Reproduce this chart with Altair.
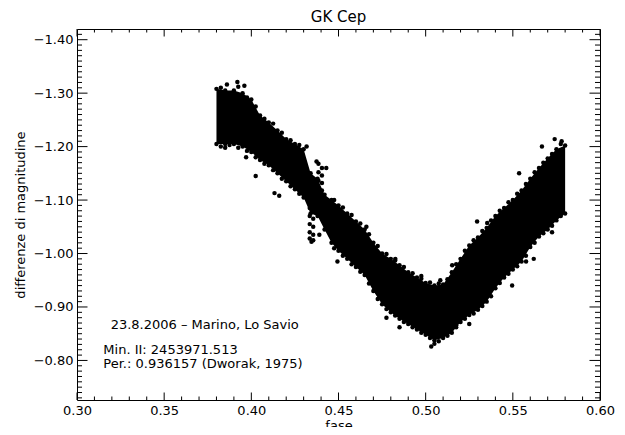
import altair as alt
import pandas as pd

# ---- light-curve envelope (phase, brightest / faintest edge) ----
phase = [0.380, 0.385, 0.390, 0.395, 0.400, 0.405, 0.410, 0.415, 0.420, 0.425,
         0.430, 0.434, 0.438, 0.442, 0.446, 0.450, 0.455, 0.460, 0.465, 0.470,
         0.475, 0.480, 0.485, 0.490, 0.495, 0.500, 0.505, 0.510, 0.515, 0.520,
         0.525, 0.530, 0.535, 0.540, 0.545, 0.550, 0.555, 0.560, 0.565, 0.570,
         0.575, 0.580]
mag_top = [-1.308, -1.305, -1.305, -1.300, -1.288, -1.258, -1.245, -1.230, -1.214, -1.205,
           -1.195, -1.150, -1.140, -1.110, -1.100, -1.090, -1.075, -1.060, -1.045, -1.020,
           -1.000, -0.990, -0.978, -0.965, -0.955, -0.945, -0.940, -0.942, -0.965, -0.990,
           -1.015, -1.030, -1.048, -1.070, -1.085, -1.100, -1.118, -1.140, -1.160, -1.178,
           -1.195, -1.202]
mag_bottom = [-1.205, -1.205, -1.205, -1.200, -1.190, -1.175, -1.165, -1.150, -1.135, -1.120,
              -1.105, -1.075, -1.070, -1.045, -1.020, -1.005, -0.990, -0.975, -0.960, -0.930,
              -0.905, -0.890, -0.878, -0.868, -0.858, -0.848, -0.838, -0.842, -0.852, -0.872,
              -0.885, -0.895, -0.910, -0.935, -0.955, -0.970, -0.985, -1.012, -1.032, -1.045,
              -1.062, -1.075]

# ---- edge points between the envelope samples ----
mid_phase = [0.3825, 0.3875, 0.3925, 0.3975, 0.4025, 0.4075, 0.4125, 0.4175, 0.4225, 0.4275,
             0.4475, 0.4525, 0.4575, 0.4625, 0.4675, 0.4725, 0.4775, 0.4825, 0.4875, 0.4925,
             0.4975, 0.5025, 0.5075, 0.5125, 0.5175, 0.5225, 0.5275, 0.5325, 0.5375, 0.5425,
             0.5475, 0.5525, 0.5575, 0.5625, 0.5675, 0.5725, 0.5775]
mid_top = [-1.310, -1.298, -1.312, -1.292, -1.275, -1.252, -1.243, -1.226, -1.212, -1.203,
           -1.100, -1.086, -1.072, -1.056, -1.036, -1.014, -0.999, -0.987, -0.975, -0.963,
           -0.953, -0.946, -0.944, -0.952, -0.980, -1.005, -1.025, -1.042, -1.062, -1.080,
           -1.096, -1.112, -1.130, -1.152, -1.170, -1.186, -1.205]
mid_bottom = [-1.200, -1.203, -1.198, -1.192, -1.180, -1.168, -1.156, -1.140, -1.126, -1.112,
              -1.010, -0.996, -0.980, -0.966, -0.944, -0.915, -0.896, -0.884, -0.872, -0.862,
              -0.852, -0.842, -0.836, -0.846, -0.862, -0.878, -0.888, -0.902, -0.920, -0.945,
              -0.962, -0.976, -0.996, -1.020, -1.038, -1.052, -1.070]

# ---- the two short vertical excursions near phase 0.435-0.44 ----
col_phase = [0.4335, 0.4335, 0.4335, 0.4335, 0.4335, 0.4335,
             0.4355, 0.4355, 0.4355, 0.4355, 0.4355, 0.4355,
             0.4385, 0.4385, 0.4385, 0.4385, 0.4405, 0.4405, 0.4405, 0.4405]
col_mag = [-1.100, -1.085, -1.070, -1.055, -1.040, -1.028,
           -1.095, -1.080, -1.065, -1.050, -1.035, -1.025,
           -1.168, -1.152, -1.136, -1.120, -1.160, -1.146, -1.132, -1.118]

# ---- scattered single points outside the dense band ----
out_phase = [0.392, 0.386, 0.396, 0.385, 0.397, 0.4025, 0.4133, 0.416, 0.4317, 0.4374,
             0.443, 0.4345, 0.439, 0.4494, 0.466, 0.4694, 0.4826, 0.4975, 0.5084, 0.5032,
             0.505, 0.5152, 0.4775, 0.485, 0.5295, 0.5353, 0.525, 0.5175, 0.5496, 0.5576,
             0.562, 0.5536, 0.5725, 0.5667, 0.578, 0.574]
out_mag = [-1.321, -1.316, -1.314, -1.198, -1.180, -1.145, -1.113, -1.108, -1.200, -1.172,
           -1.160, -1.022, -1.035, -0.985, -1.050, -1.010, -0.990, -0.958, -0.950, -0.826,
           -0.831, -0.978, -0.880, -0.862, -1.060, -1.057, -0.868, -0.866, -0.940, -0.985,
           -0.990, -1.150, -1.040, -1.200, -1.210, -1.214]

# ---- axes ----
x_major = [0.30, 0.35, 0.40, 0.45, 0.50, 0.55, 0.60]
y_major = [-1.40, -1.30, -1.20, -1.10, -1.00, -0.90, -0.80]
x_minor = [round(0.30 + i * 0.01, 2) for i in range(31) if i % 5]
y_minor = [round(-1.41 + i * 0.01, 2) for i in range(69)
           if round(-1.41 + i * 0.01, 2) not in y_major]

title_text = ["GK Cep"]
ann_text = ["23.8.2006 \u2013 Marino, Lo Savio", "Min. II: 2453971.513",
            "Per.: 0.936157 (Dworak, 1975)"]
ann_phase = [0.3193, 0.3151, 0.3151]
ann_mag = [-0.8588, -0.8112, -0.7850]

W, H = 523, 371
FONT = "DejaVu Sans"

xs = alt.Scale(domain=[0.30, 0.60], nice=False, zero=False)
ys = alt.Scale(domain=[-1.42, -0.726], nice=False, zero=False, reverse=True)

xaxis = alt.Axis(values=x_major, format=".2f", ticks=False, tickSize=0, domain=False,
                 grid=False, labelFont=FONT, labelFontSize=13, labelColor="black",
                 labelPadding=4, labelFlush=False, labelOverlap=False,
                 title="fase", titleFont=FONT, titleFontSize=13, titleFontWeight="normal",
                 titleColor="black", titleX=W / 2, titleY=19, titleBaseline="top",
                 titleAlign="center")
yaxis = alt.Axis(values=y_major, format=".2f", ticks=False, tickSize=0, domain=False,
                 grid=False, labelFont=FONT, labelFontSize=13, labelColor="black",
                 labelPadding=4, labelFlush=False, labelOverlap=False,
                 title="differenze di magnitudine", titleFont=FONT, titleFontSize=13,
                 titleFontWeight="normal", titleColor="black", titleX=-57, titleY=H / 2,
                 titleAngle=270, titleBaseline="middle", titleAlign="center")


def X(field):
    return alt.X(field, scale=xs, axis=xaxis)


def Y(field):
    return alt.Y(field, scale=ys, axis=yaxis)


band_df = pd.DataFrame({"phase": phase, "top": mag_top, "bottom": mag_bottom})
pts_df = pd.DataFrame({
    "phase": phase + phase + mid_phase + mid_phase + col_phase + out_phase,
    "mag": mag_top + mag_bottom + mid_top + mid_bottom + col_mag + out_mag,
})

band = alt.Chart(band_df).mark_area(color="black", opacity=1).encode(
    x=X("phase:Q"), y=Y("top:Q"), y2="bottom:Q",
)
pts = alt.Chart(pts_df).mark_circle(color="black", opacity=1, size=20).encode(
    x=X("phase:Q"), y=Y("mag:Q"),
)


def xticks(vals, y0, y1):
    return alt.Chart(pd.DataFrame({"phase": vals})).mark_rule(color="black", strokeWidth=1).encode(
        x=X("phase:Q"), y=alt.value(y0), y2=alt.value(y1))


def yticks(vals, x0, x1):
    return alt.Chart(pd.DataFrame({"top": vals})).mark_rule(color="black", strokeWidth=1).encode(
        y=Y("top:Q"), x=alt.value(x0), x2=alt.value(x1))


tick_layers = [
    xticks(x_major, H, H - 7.5), xticks(x_major, 0, 7.5),
    xticks(x_minor, H, H - 3.5), xticks(x_minor, 0, 3.5),
    yticks(y_major, 0, 10.5), yticks(y_major, W, W - 10.5),
    yticks(y_minor, 0, 5), yticks(y_minor, W, W - 5),
]

title = alt.Chart(pd.DataFrame({"t": title_text})).mark_text(
    font=FONT, fontSize=15, align="center", baseline="alphabetic", color="black"
).encode(text="t:N", x=alt.value(W / 2), y=alt.value(-7))

ann = alt.Chart(pd.DataFrame({"t": ann_text, "phase": ann_phase, "top": ann_mag})).mark_text(
    font=FONT, fontSize=13, align="left", baseline="alphabetic", color="black"
).encode(text="t:N", x=X("phase:Q"), y=Y("top:Q"))

chart = alt.layer(band, pts, *tick_layers, title, ann).properties(
    width=W, height=H,
    autosize=alt.AutoSizeParams(type="none"),
    padding={"left": 69, "top": 21, "right": 17, "bottom": 27},
    background="white",
).configure_view(stroke="black", strokeWidth=1)

chart.save("out.html", embed_options={"renderer": "svg", "actions": False})
